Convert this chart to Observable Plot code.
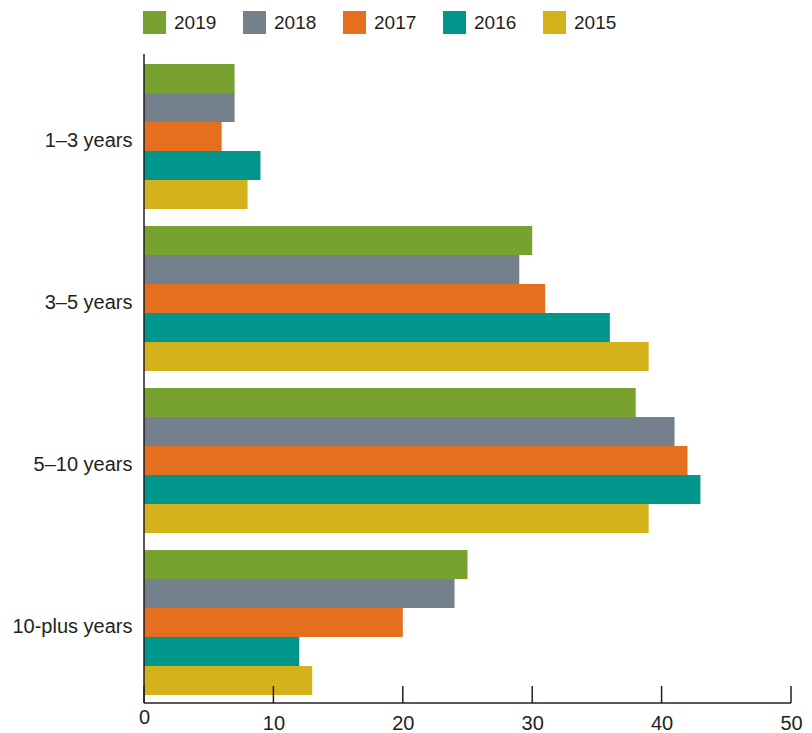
<!DOCTYPE html>
<html>
<head>
<meta charset="utf-8">
<script src="https://cdn.jsdelivr.net/npm/d3@7"></script>
<script src="https://cdn.jsdelivr.net/npm/@observablehq/plot@0.6"></script>
<style>
  html, body { margin: 0; padding: 0; background: #fff; }
  body { font-family: "Liberation Sans", Arial, sans-serif; color: #231f20; }
  #wrap { position: relative; width: 812px; height: 733px; }
  #legend { position: absolute; left: 143px; top: 11px; display: flex; }
  .item { width: 100px; display: flex; align-items: center; font-size: 19px; }
  .sw { width: 23px; height: 23px; margin-right: 8px; flex: none; }
  #chart { position: absolute; left: 0; top: 0; }
</style>
</head>
<body>
<div id="wrap">
  <div id="chart"></div>
  <div id="legend"></div>
</div>
<script>
const categories = ["1–3 years", "3–5 years", "5–10 years", "10-plus years"];
const years = ["2019", "2018", "2017", "2016", "2015"];
const colors = ["#77a22f", "#74818c", "#e46f1e", "#00968c", "#d4b21c"];
const v2019 = [7, 30, 38, 25];
const v2018 = [7, 29, 41, 24];
const v2017 = [6, 31, 42, 20];
const v2016 = [9, 36, 43, 12];
const v2015 = [8, 39, 39, 13];
const xTicks = [0, 10, 20, 30, 40, 50];

const series = [v2019, v2018, v2017, v2016, v2015];
const data = [];
categories.forEach((c, i) => {
  years.forEach((y, j) => data.push({category: c, year: y, value: series[j][i]}));
});

const W = 812, H = 733, mL = 144, mR = 21, mT = 55, mB = 30;

const plot = Plot.plot({
  width: W,
  height: H,
  marginLeft: mL,
  marginRight: mR,
  marginTop: mT,
  marginBottom: mB,
  style: {fontFamily: "'Liberation Sans', Arial, sans-serif", fontSize: "20px", color: "#231f20", background: "transparent"},
  x: {domain: [0, 50], ticks: xTicks, tickSize: 0, tickPadding: 20, label: null, tickFormat: d => d},
  y: {domain: years, axis: null, padding: 0},
  fy: {domain: categories, paddingInner: 0.1, paddingOuter: 0.05, label: null, axis: null},
  color: {domain: years, range: colors},
  marks: [
    Plot.barX(data, {fy: "category", y: "year", x: "value", fill: "year"}),
    Plot.axisFy({anchor: "left", tickSize: 0, tickPadding: 12, label: null, dy: 4, fontSize: 20})
  ]
});

document.getElementById("chart").appendChild(plot);

// axis lines drawn with the plot's own x scale
const xs = plot.scale("x");
const svg = d3.select(plot);
const g = svg.append("g").attr("stroke", "#231f20").attr("stroke-width", 1.5).attr("fill", "none");
const x0 = xs.apply(0), x1 = xs.apply(50), yb = H - mB;
g.append("line").attr("x1", x0).attr("x2", x0).attr("y1", mT - 1).attr("y2", yb);
g.append("line").attr("x1", x0).attr("x2", x1).attr("y1", yb).attr("y2", yb);
xTicks.forEach(t => {
  g.append("line").attr("x1", xs.apply(t)).attr("x2", xs.apply(t)).attr("y1", yb - 17).attr("y2", yb);
});
// the reference sets its "0" label a little higher than the others
svg.selectAll("text").filter(function () { return this.textContent === "0"; })
  .attr("transform", function () { return (this.getAttribute("transform") || "") + " translate(0,-6)"; });

// legend
const leg = d3.select("#legend");
years.forEach((y, i) => {
  const it = leg.append("div").attr("class", "item");
  it.append("div").attr("class", "sw").style("background", colors[i]);
  it.append("span").text(y);
});
</script>
</body>
</html>
